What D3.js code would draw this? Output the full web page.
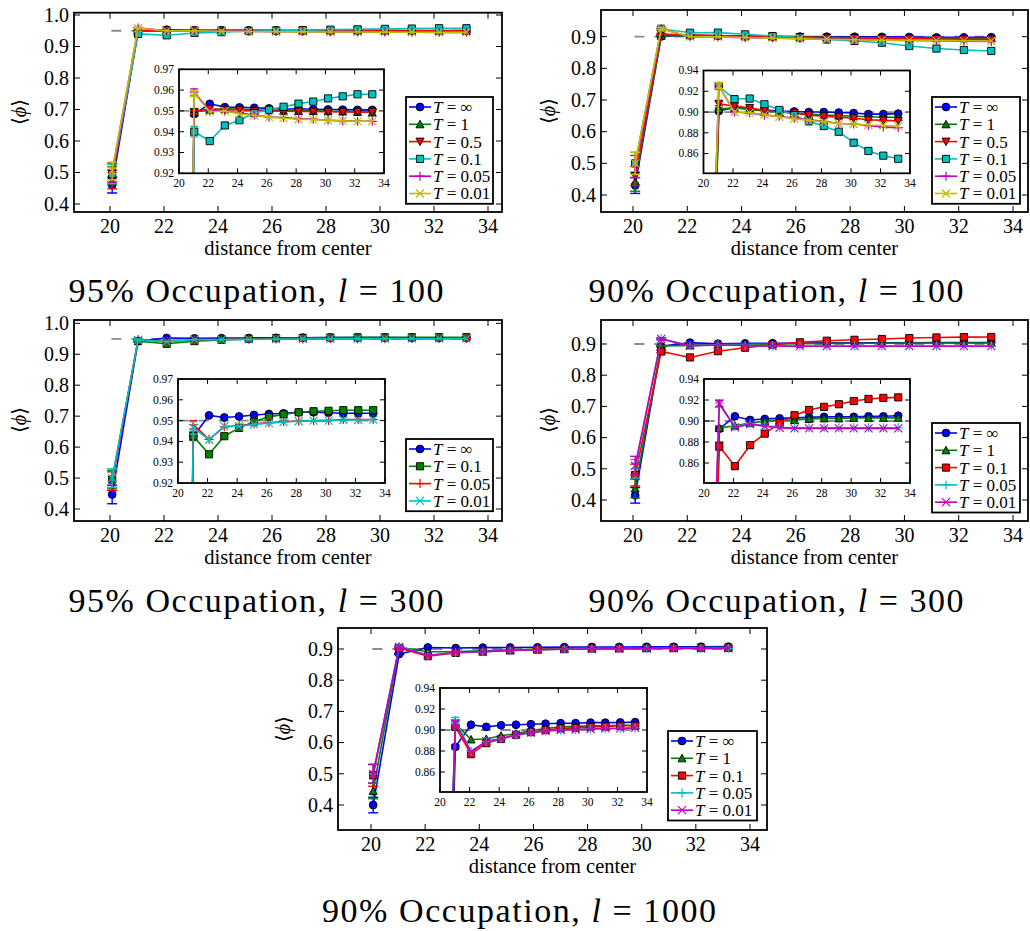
<!DOCTYPE html>
<html><head><meta charset="utf-8">
<script src="https://cdn.jsdelivr.net/npm/d3@7"></script>
<style>
body{margin:0;background:#fff}
svg{display:block}
</style>
</head><body>
<svg id="chart" width="1030" height="931" font-family="'Liberation Serif', 'Times New Roman', Times, 'DejaVu Serif', 'Noto Serif', serif"></svg>
<script>
// ---------------- data ----------------
const xs = [20.08, 21.04, 22.1, 23.13, 24.13, 25.14, 26.15, 27.14, 28.16, 29.17, 30.18, 31.18, 32.19, 33.2];
const xTicks = [20, 22, 24, 26, 28, 30, 32, 34];
const yTicks95 = [0.4, 0.5, 0.6, 0.7, 0.8, 0.9, 1.0];
const yTicks90 = [0.4, 0.5, 0.6, 0.7, 0.8, 0.9];
const insetTicks95 = [0.92, 0.93, 0.94, 0.95, 0.96, 0.97];
const insetTicks90 = [0.86, 0.88, 0.90, 0.92, 0.94];
const titles = ["95% Occupation, ", "90% Occupation, ", "95% Occupation, ", "90% Occupation, ", "90% Occupation, "];
const lengths = ["100", "100", "300", "300", "1000"];
const occupations = [0.95, 0.90, 0.95, 0.90, 0.90];

// panel 1: 95%, l = 100
const p1Temps = ["∞", "1", "0.5", "0.1", "0.05", "0.01"];
const p1Inf  = [0.46, 0.9485, 0.9534, 0.9518, 0.9517, 0.9515, 0.9512, 0.9508, 0.951, 0.9508, 0.9507, 0.9506, 0.9505, 0.9505];
const p1T1   = [0.49, 0.9495, 0.9505, 0.951, 0.9508, 0.9505, 0.9503, 0.950, 0.950, 0.950, 0.9498, 0.9497, 0.9495, 0.9492];
const p1T05  = [0.478, 0.9495, 0.951, 0.9505, 0.9505, 0.950, 0.950, 0.9498, 0.9497, 0.9497, 0.9496, 0.9495, 0.9495, 0.9495];
const p1T01  = [0.495, 0.940, 0.9355, 0.943, 0.9455, 0.949, 0.9505, 0.952, 0.9535, 0.9545, 0.956, 0.957, 0.958, 0.958];
const p1T005 = [0.50, 0.959, 0.950, 0.950, 0.949, 0.948, 0.947, 0.9468, 0.9462, 0.946, 0.9455, 0.9452, 0.945, 0.945];
const p1T001 = [0.505, 0.9585, 0.9495, 0.950, 0.9485, 0.9478, 0.947, 0.9465, 0.946, 0.9458, 0.9455, 0.9452, 0.945, 0.945];
const p1Err0 = [0.025, 0.028, 0.03, 0.03, 0.03, 0.028];
const p1Err1 = [0.001, 0.001, 0.001, 0.0025, 0.0015, 0.0015];

// panel 2: 90%, l = 100
const p2Temps = ["∞", "1", "0.5", "0.1", "0.05", "0.01"];
const p2Inf  = [0.43, 0.901, 0.9045, 0.903, 0.902, 0.901, 0.9005, 0.900, 0.900, 0.8995, 0.899, 0.898, 0.898, 0.8985];
const p2T1   = [0.442, 0.903, 0.904, 0.9025, 0.901, 0.900, 0.899, 0.898, 0.897, 0.8965, 0.896, 0.8955, 0.895, 0.895];
const p2T05  = [0.46, 0.908, 0.9055, 0.904, 0.901, 0.9005, 0.899, 0.897, 0.896, 0.895, 0.894, 0.8925, 0.892, 0.8915];
const p2T01  = [0.50, 0.925, 0.9125, 0.913, 0.9075, 0.902, 0.897, 0.891, 0.8865, 0.881, 0.8705, 0.8625, 0.858, 0.855];
const p2T005 = [0.49, 0.925, 0.900, 0.899, 0.897, 0.896, 0.894, 0.8925, 0.891, 0.889, 0.8885, 0.887, 0.8855, 0.885];
const p2T001 = [0.50, 0.9255, 0.900, 0.8995, 0.8975, 0.8955, 0.8935, 0.892, 0.8905, 0.889, 0.8885, 0.8875, 0.887, 0.8865];
const p2Err0 = [0.025, 0.03, 0.03, 0.035, 0.035, 0.035];
const p2Err1 = [0.001, 0.001, 0.002, 0.003, 0.003, 0.003];

// panel 3: 95%, l = 300
const p3Temps = ["∞", "0.1", "0.05", "0.01"];
const p3Inf  = [0.447, 0.9425, 0.9525, 0.9515, 0.952, 0.9527, 0.9532, 0.9535, 0.954, 0.954, 0.9538, 0.9535, 0.9535, 0.9535];
const p3T01  = [0.495, 0.9425, 0.9338, 0.9425, 0.9465, 0.9495, 0.9518, 0.953, 0.954, 0.9545, 0.9547, 0.955, 0.955, 0.955];
const p3T005 = [0.49, 0.948, 0.941, 0.947, 0.9475, 0.9485, 0.949, 0.9495, 0.9498, 0.950, 0.950, 0.9505, 0.9505, 0.9505];
const p3T001 = [0.50, 0.9465, 0.9408, 0.9473, 0.9473, 0.9482, 0.9488, 0.9493, 0.9497, 0.950, 0.950, 0.9503, 0.9503, 0.9505];
const p3Err0 = [0.03, 0.03, 0.03, 0.03];
const p3Err1 = [0.002, 0.002, 0.002, 0.003];

// panel 4: 90%, l = 300
const p4Temps = ["∞", "1", "0.1", "0.05", "0.01"];
const p4Inf  = [0.415, 0.8926, 0.9045, 0.901, 0.902, 0.9025, 0.903, 0.9035, 0.904, 0.904, 0.904, 0.9045, 0.9045, 0.905];
const p4T1   = [0.437, 0.8935, 0.8955, 0.898, 0.900, 0.9005, 0.901, 0.902, 0.9025, 0.9025, 0.903, 0.903, 0.903, 0.903];
const p4T01  = [0.48, 0.876, 0.857, 0.877, 0.888, 0.898, 0.9055, 0.9105, 0.9135, 0.916, 0.919, 0.921, 0.922, 0.9225];
const p4T005 = [0.50, 0.917, 0.8945, 0.8975, 0.8955, 0.894, 0.8935, 0.8935, 0.8935, 0.8935, 0.8935, 0.8935, 0.8935, 0.8935];
const p4T001 = [0.51, 0.9165, 0.894, 0.897, 0.895, 0.8935, 0.893, 0.893, 0.893, 0.893, 0.893, 0.893, 0.893, 0.893];
const p4Err0 = [0.025, 0.03, 0.035, 0.03, 0.03];
const p4Err1 = [0.002, 0.002, 0.004, 0.003, 0.003];

// panel 5: 90%, l = 1000
const p5Temps = ["∞", "1", "0.1", "0.05", "0.01"];
const p5Inf  = [0.40, 0.884, 0.905, 0.903, 0.9045, 0.905, 0.9055, 0.906, 0.9065, 0.9065, 0.907, 0.907, 0.9072, 0.9075];
const p5T1   = [0.445, 0.906, 0.891, 0.8915, 0.8945, 0.8965, 0.8995, 0.9015, 0.903, 0.9035, 0.904, 0.904, 0.9045, 0.9045];
const p5T01  = [0.495, 0.903, 0.877, 0.8875, 0.8915, 0.8955, 0.898, 0.900, 0.9015, 0.902, 0.903, 0.9035, 0.904, 0.904];
const p5T005 = [0.50, 0.909, 0.880, 0.889, 0.8915, 0.895, 0.8975, 0.899, 0.900, 0.9005, 0.901, 0.9015, 0.9015, 0.902];
const p5T001 = [0.50, 0.9065, 0.879, 0.8895, 0.8915, 0.8955, 0.8975, 0.899, 0.900, 0.9005, 0.901, 0.9015, 0.9015, 0.902];
const p5Err0 = [0.025, 0.025, 0.035, 0.03, 0.03];
const p5Err1 = [0.002, 0.002, 0.002, 0.003, 0.003];

// ---------------- styles / layout ----------------
const C = {b:"#0000ff", g:"#008000", r:"#ff0000", c:"#00bfbf", m:"#bf00bf", y:"#bfbf00"};
const panels = [
  {temps:p1Temps, vals:[p1Inf,p1T1,p1T05,p1T01,p1T005,p1T001], e0:p1Err0, e1:p1Err1,
   colors:[C.b,C.g,C.r,C.c,C.m,C.y], marks:["o","^","v","s","+","x"],
   frame:[74,502,12.7,212], xr:[110,488], yd:[0.4,1.0], yr:[204,15], yt:yTicks95,
   inset:[179,384,69.3,173.3], iyd:[0.92,0.97], iyt:insetTicks95,
   leg:[406,97,87], ylab:[19,112], title:[256,302,375]},
  {temps:p2Temps, vals:[p2Inf,p2T1,p2T05,p2T01,p2T005,p2T001], e0:p2Err0, e1:p2Err1,
   colors:[C.b,C.g,C.r,C.c,C.m,C.y], marks:["o","^","v","s","+","x"],
   frame:[601,1028,10,212], xr:[633,1013], yd:[0.4,0.9], yr:[195,36.7], yt:yTicks90,
   inset:[703.5,910,70.5,173.3], iyd:[0.841,0.94], iyt:insetTicks90,
   leg:[932,97,88], ylab:[548,111], title:[776,302,375]},
  {temps:p3Temps, vals:[p3Inf,p3T01,p3T005,p3T001], e0:p3Err0, e1:p3Err1,
   colors:[C.b,C.g,C.r,C.c], marks:["o","s","+","x"],
   frame:[74,502,320,521], xr:[110,488], yd:[0.4,1.0], yr:[509,323.3], yt:yTicks95,
   inset:[178,385,379,483], iyd:[0.92,0.97], iyt:insetTicks95,
   leg:[406,439,87], ylab:[19,420], title:[256,612,375]},
  {temps:p4Temps, vals:[p4Inf,p4T1,p4T01,p4T005,p4T001], e0:p4Err0, e1:p4Err1,
   colors:[C.b,C.g,C.r,C.c,C.m], marks:["o","^","s","+","x"],
   frame:[601,1028,320,521], xr:[633,1013], yd:[0.4,0.9], yr:[500,344], yt:yTicks90,
   inset:[704,910,379,483], iyd:[0.841,0.94], iyt:insetTicks90,
   leg:[932,423,88], ylab:[548,420], title:[776,612,375]},
  {temps:p5Temps, vals:[p5Inf,p5T1,p5T01,p5T005,p5T001], e0:p5Err0, e1:p5Err1,
   colors:[C.b,C.g,C.r,C.c,C.m], marks:["o","^","s","+","x"],
   frame:[338,767,628,830], xr:[371,750], yd:[0.4,0.9], yr:[805,649], yt:yTicks90,
   inset:[440,647,688,792], iyd:[0.841,0.94], iyt:insetTicks90,
   leg:[668,731,89], ylab:[283,729], title:[519,922,394]}
];

const svg = d3.select("#chart");
const defs = svg.append("defs");

function markerPath(m){
  switch(m){
    case "o": return d3.symbol(d3.symbolCircle, Math.PI*3.9*3.9)();
    case "^": return "M0,-4L4,3.5L-4,3.5Z";
    case "v": return "M0,4L4,-3.5L-4,-3.5Z";
    case "s": return "M-3.6,-3.6H3.6V3.6H-3.6Z";
    case "+": return "M-4.5,0H4.5M0,-4.5V4.5";
    case "x": return "M-4,-4L4,4M-4,4L4,-4";
  }
}
function drawMarker(g, m, color, x, y){
  const filled = !(m === "+" || m === "x");
  g.append("path").attr("d", markerPath(m)).attr("transform", `translate(${x},${y})`)
    .attr("fill", filled ? color : "none")
    .attr("stroke", filled ? "#000" : color)
    .attr("stroke-width", filled ? 0.9 : 1.2);
}

function drawSeries(g, p, x, y, cap){
  const occ = p.occ;
  g.append("line").attr("x1", x(20.05)).attr("x2", x(33.2)).attr("y1", y(occ)).attr("y2", y(occ))
    .attr("stroke", "#8c8c8c").attr("stroke-width", 1.8).attr("stroke-dasharray", "10,10");
  p.vals.forEach((vals, si) => {
    const col = p.colors[si];
    const pts = xs.map((xv, i) => [xv, vals[i]]);
    const line = d3.line().x(d => x(d[0])).y(d => y(d[1]));
    g.append("path").attr("d", line(pts)).attr("fill", "none").attr("stroke", col).attr("stroke-width", 1.6);
    const errs = [p.e0[si], p.e1[si]];
    errs.forEach((e, i) => {
      const cx = x(xs[i]), y1 = y(vals[i] - e), y2 = y(vals[i] + e);
      g.append("line").attr("x1", cx).attr("x2", cx).attr("y1", y1).attr("y2", y2).attr("stroke", col).attr("stroke-width", 1.4);
      [y1, y2].forEach(yy => g.append("line").attr("x1", cx - cap).attr("x2", cx + cap).attr("y1", yy).attr("y2", yy).attr("stroke", col).attr("stroke-width", 1.4));
    });
    pts.forEach(d => drawMarker(g, p.marks[si], col, x(d[0]), y(d[1])));
  });
}

function frameTicks(g, box, x, y, xt, yt, len, fmtY, fs, xoff, yoff){
  const [l, r, t, b] = box;
  g.append("rect").attr("x", l).attr("y", t).attr("width", r - l).attr("height", b - t)
    .attr("fill", "none").attr("stroke", "#000").attr("stroke-width", 1.8);
  xt.forEach(v => {
    const px = x(v);
    if (px < l - 0.5 || px > r + 0.5) return;
    g.append("line").attr("x1", px).attr("x2", px).attr("y1", b).attr("y2", b - len).attr("stroke", "#000").attr("stroke-width", 1);
    g.append("line").attr("x1", px).attr("x2", px).attr("y1", t).attr("y2", t + len).attr("stroke", "#000").attr("stroke-width", 1);
    g.append("text").attr("x", px).attr("y", b + xoff).attr("text-anchor", "middle").attr("font-size", fs).text(v);
  });
  yt.forEach(v => {
    const py = y(v);
    g.append("line").attr("x1", l).attr("x2", l + len).attr("y1", py).attr("y2", py).attr("stroke", "#000").attr("stroke-width", 1);
    g.append("line").attr("x1", r).attr("x2", r - len).attr("y1", py).attr("y2", py).attr("stroke", "#000").attr("stroke-width", 1);
    g.append("text").attr("x", l - yoff).attr("y", py).attr("dy", "0.34em").attr("text-anchor", "end").attr("font-size", fs).text(fmtY(v));
  });
}

panels.forEach((p, pi) => {
  p.occ = occupations[pi];
  const g = svg.append("g");
  const [l, r, t, b] = p.frame;
  const x = d3.scaleLinear().domain([20, 34]).range(p.xr);
  const y = d3.scaleLinear().domain(p.yd).range(p.yr);

  const cid = "clipMain" + pi;
  defs.append("clipPath").attr("id", cid).append("rect").attr("x", l).attr("y", t).attr("width", r - l).attr("height", b - t);
  g.append("rect").attr("x", l).attr("y", t).attr("width", r - l).attr("height", b - t).attr("fill", "#fff");
  drawSeries(g.append("g").attr("clip-path", `url(#${cid})`), p, x, y, 5);
  frameTicks(g, p.frame, x, y, xTicks, p.yt, 6, d3.format(".1f"), 20, 21, 5);

  g.append("text").attr("x", (l + r) / 2).attr("y", b + 43).attr("text-anchor", "middle").attr("font-size", 20.5).text("distance from center");
  const yl = g.append("text").attr("transform", `translate(${p.ylab[0] + 7},${p.ylab[1]}) rotate(-90)`).attr("text-anchor", "middle").attr("font-size", 20);
  yl.append("tspan").text("⟨");
  yl.append("tspan").attr("font-style", "italic").text("ϕ");
  yl.append("tspan").text("⟩");

  const [il, ir, it, ib] = p.inset;
  const ix = d3.scaleLinear().domain([20, 34]).range([il, ir]);
  const iy = d3.scaleLinear().domain(p.iyd).range([ib, it]);
  const icid = "clipInset" + pi;
  defs.append("clipPath").attr("id", icid).append("rect").attr("x", il).attr("y", it).attr("width", ir - il).attr("height", ib - it);
  g.append("rect").attr("x", il).attr("y", it).attr("width", ir - il).attr("height", ib - it).attr("fill", "#fff");
  drawSeries(g.append("g").attr("clip-path", `url(#${icid})`), p, ix, iy, 4);
  frameTicks(g, p.inset, ix, iy, xTicks, p.iyt, 5, d3.format(".2f"), 11.5, 14, 5);

  const [lx, ly, lw] = p.leg;
  const n = p.temps.length, rowH = 17.3;
  const lh = n * rowH + 3;
  const lg = g.append("g");
  lg.append("rect").attr("x", lx).attr("y", ly).attr("width", lw).attr("height", lh)
    .attr("fill", "#fff").attr("stroke", "#000").attr("stroke-width", 1.8);
  p.temps.forEach((tv, si) => {
    const cy = ly + 10 + si * rowH;
    const col = p.colors[si];
    lg.append("line").attr("x1", lx + 3).attr("x2", lx + 25).attr("y1", cy).attr("y2", cy).attr("stroke", col).attr("stroke-width", 1.6);
    drawMarker(lg, p.marks[si], col, lx + 14, cy);
    const tx = lg.append("text").attr("x", lx + 27).attr("y", cy).attr("dy", "0.35em").attr("font-size", 17);
    tx.append("tspan").attr("font-style", "italic").text("T");
    tx.append("tspan").text(" = " + tv);
  });

  const [tx0, ty0, tw] = p.title;
  const tt = svg.append("text").attr("x", tx0).attr("y", ty0).attr("text-anchor", "middle").attr("font-size", 34)
    .attr("textLength", tw).attr("lengthAdjust", "spacing");
  tt.append("tspan").text(titles[pi]);
  tt.append("tspan").attr("font-style", "italic").text("l");
  tt.append("tspan").text(" = " + lengths[pi]);
});
</script>
</body></html>
